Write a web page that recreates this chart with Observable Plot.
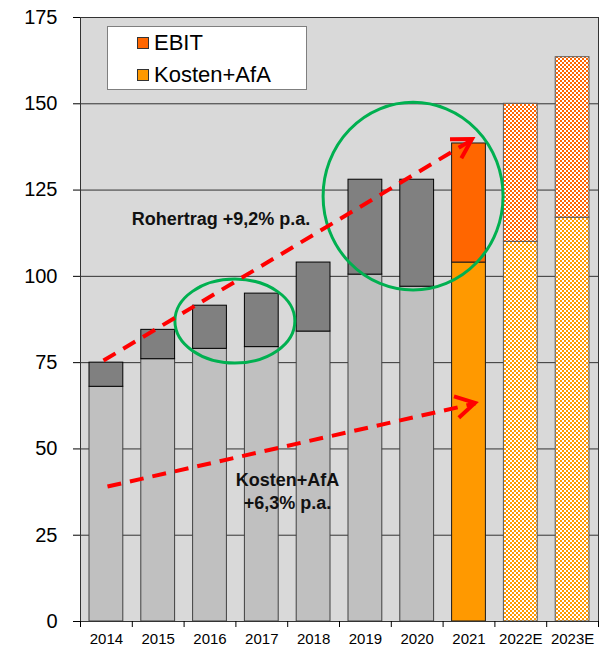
<!DOCTYPE html>
<html><head><meta charset="utf-8">
<script src="https://cdn.jsdelivr.net/npm/d3@7"></script>
<script src="https://cdn.jsdelivr.net/npm/@observablehq/plot@0.6"></script>
<style>
body{margin:0;background:#fff;}
#wrap{position:relative;width:604px;height:647px;font-family:Arial,"Liberation Sans",sans-serif;}
#wrap svg{position:absolute;left:0;top:0;}
#legend{position:absolute;left:107px;top:26px;width:200px;height:64px;box-sizing:border-box;background:#fff;border:1px solid #7f7f7f;z-index:2;}
.sw{position:absolute;left:29px;width:12px;height:12px;box-sizing:border-box;border:1px solid #333;}
.lt{position:absolute;left:46px;font-size:22px;line-height:22px;color:#000;white-space:nowrap;}
</style></head><body>
<div id="wrap">
  <div id="legend">
    <div class="sw" style="top:10px;background:#ff6600"></div><div class="lt" style="top:5px">EBIT</div>
    <div class="sw" style="top:42px;background:#ff9900"></div><div class="lt" style="top:37px">Kosten+AfA</div>
  </div>
</div>
<script>
// ---- data ----
const years  = ["2014","2015","2016","2017","2018","2019","2020","2021","2022E","2023E"];
const costs  = [68, 76, 79, 79.5, 84, 100.5, 97, 104, 110, 117];          // Kosten+AfA
const totals = [75, 84.5, 91.5, 95, 104, 128, 128, 138.5, 150, 163.5];    // Rohertrag
const phases = ["hist","hist","hist","hist","hist","hist","hist","ist","plan","plan"];
const yTicks = [0, 25, 50, 75, 100, 125, 150, 175];

// annotations (data coordinates: x = category index, y = value)
const noteText = ["Rohertrag +9,2% p.a.", "Kosten+AfA", "+6,3% p.a."];
const noteX = [2.712, 3.996, 3.996];
const noteY = [116.5, 40.85, 34.19];
const trendX1 = [0.444, 0.521];
const trendY1 = [75.6, 39.1];
const trendX2 = [7.568, 7.625];
const trendY2 = [139.65, 63.2];
const ringX  = [2.99, 6.43];
const ringY  = [86.9, 123.1];
const ringRx = [1.158, 1.737];
const ringRy = [12.17, 27.2];

// ---- tables ----
const rows = years.map((year, i) => ({year, i, cost: costs[i], total: totals[i], phase: phases[i]}));
const notes = noteText.map((text, k) => ({text, x: noteX[k], y: noteY[k]}));
const trends = trendX1.map((_, k) => ({x1: trendX1[k], y1: trendY1[k], x2: trendX2[k], y2: trendY2[k]}));
const rings = ringX.map((_, k) => ({x: ringX[k], y: ringY[k], rx: ringRx[k], ry: ringRy[k]}));

const look = {
  hist: {base: "#c0c0c0", top: "#808080", baseStroke: "#404040", topStroke: "#000"},
  ist:  {base: "#ff9900", top: "#ff6600", baseStroke: "#1a1a1a", topStroke: "#1a1a1a"},
  plan: {base: "url(#chkBase)", top: "url(#chkTop)", baseStroke: "#595959", topStroke: "#595959"}
};

function patternDefs() {
  const g = d3.create("svg:g");
  const defs = g.append("defs");
  [["chkTop", "#ff6600"], ["chkBase", "#ff9900"]].forEach(([id, c]) => {
    const p = defs.append("pattern").attr("id", id).attr("patternUnits", "userSpaceOnUse")
      .attr("width", 4).attr("height", 4);
    p.append("rect").attr("width", 4).attr("height", 4).attr("fill", "#fff");
    p.append("rect").attr("width", 2).attr("height", 2).attr("fill", c);
    p.append("rect").attr("x", 2).attr("y", 2).attr("width", 2).attr("height", 2).attr("fill", c);
  });
  return g.node();
}

function ringsMark(index, scales) {
  const {x, y} = scales;
  const g = d3.create("svg:g");
  g.selectAll("ellipse").data(rings).join("ellipse")
    .attr("cx", d => x(d.x)).attr("cy", d => y(d.y))
    .attr("rx", d => Math.abs(x(d.x + d.rx) - x(d.x)))
    .attr("ry", d => Math.abs(y(d.y - d.ry) - y(d.y)))
    .attr("fill", "none").attr("stroke", "#00b050").attr("stroke-width", 3);
  return g.node();
}

function headsMark(index, scales) {
  const {x, y} = scales;
  const g = d3.create("svg:g");
  const L = 22, w = Math.PI / 6;
  g.selectAll("path").data(trends).join("path")
    .attr("d", d => {
      const X1 = x(d.x1), Y1 = y(d.y1), X2 = x(d.x2), Y2 = y(d.y2);
      const a = Math.atan2(Y2 - Y1, X2 - X1);
      return `M${X2 - L * Math.cos(a - w)},${Y2 - L * Math.sin(a - w)}L${X2},${Y2}L${X2 - L * Math.cos(a + w)},${Y2 - L * Math.sin(a + w)}`;
    })
    .attr("fill", "none").attr("stroke", "#ff0000").attr("stroke-width", 4)
    .attr("stroke-linejoin", "miter");
  return g.node();
}

const bars = [];
for (const ph of ["hist", "ist", "plan"]) {
  const s = look[ph];
  const sub = rows.filter(d => d.phase === ph);
  bars.push(Plot.rect(sub, {x1: "i", x2: d => d.i + 1, y1: 0, y2: "cost",
    fill: s.base, stroke: s.baseStroke, strokeWidth: 1, insetLeft: 9, insetRight: 9}));
  bars.push(Plot.rect(sub, {x1: "i", x2: d => d.i + 1, y1: "cost", y2: "total",
    fill: s.top, stroke: s.topStroke, strokeWidth: 1, insetLeft: 9, insetRight: 9}));
}

const chart = Plot.plot({
  width: 604, height: 647,
  marginLeft: 80, marginRight: 6, marginTop: 17, marginBottom: 26,
  x: {domain: [0, 10], axis: null},
  y: {domain: [0, 175], axis: null},
  style: {fontFamily: "Arial, 'Liberation Sans', sans-serif", background: "transparent", color: "#000"},
  marks: [
    patternDefs,
    Plot.frame({fill: "#d9d9d9", stroke: null}),
    Plot.ruleY(yTicks.slice(1, -1), {stroke: "#333", strokeWidth: 1}),
    ...bars,
    Plot.frame({stroke: "#333", fill: "none"}),
    Plot.axisY(yTicks, {tickSize: 7, tickPadding: 16, fontSize: 20, label: null}),
    Plot.axisX(d3.range(0, 11), {tickSize: 6, tickFormat: () => "", label: null}),
    Plot.axisX(years.map((_, i) => i + 0.5), {tickSize: 0, tickPadding: 12, fontSize: 15,
      tickFormat: d => years[Math.floor(d)], label: null}),
    ringsMark,
    Plot.link(trends, {x1: "x1", y1: "y1", x2: "x2", y2: "y2", stroke: "#ff0000",
      strokeWidth: 4, strokeDasharray: "14,9"}),
    headsMark,
    Plot.text(notes, {x: "x", y: "y", text: "text", fontSize: 18, fontWeight: "bold", fill: "#111"})
  ]
});
document.getElementById("wrap").prepend(chart);
</script>
</body></html>
